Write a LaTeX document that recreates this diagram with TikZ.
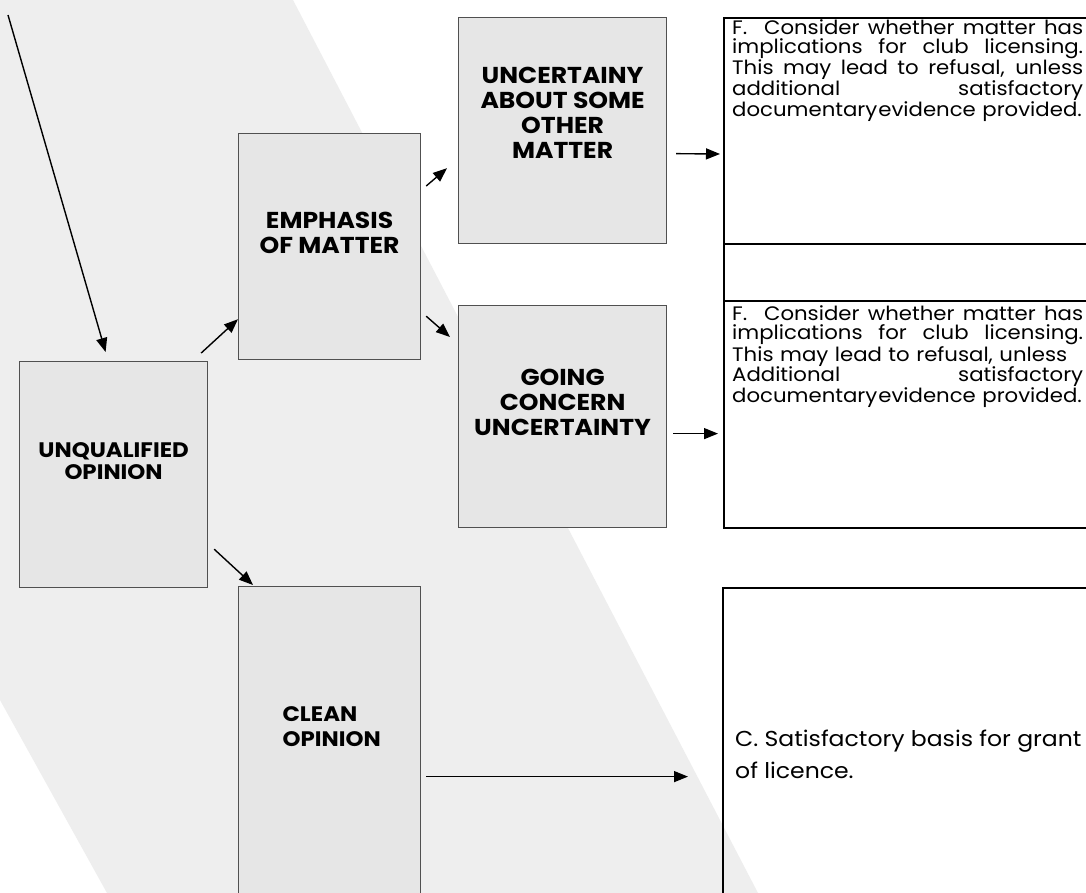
\documentclass[tikz,border=0pt]{standalone}
\usepackage{fontspec}
\setmainfont{Poppins}[FakeStretch=1.09]
\usetikzlibrary{arrows.meta,positioning}
\definecolor{bandgrey}{HTML}{EEEEEE}
\definecolor{boxgrey}{HTML}{E6E6E6}
\definecolor{boxline}{HTML}{505050}
% one stretched line of a justified cell
\newcommand\justline[1]{\makebox[351bp][s]{\spaceskip=0.28em plus 1fil\relax #1}}

\begin{document}
\begin{tikzpicture}[%
    x=1bp, y=-1bp,                        % pixel-like units, y going down
    >={Triangle[length=14bp,width=11bp]}, % filled arrow heads
    every node/.style={font=\fontsize{19.5bp}{19.8bp}\selectfont},
    ]
% -------------------------------------------------
% Box and line styles
\tikzset{
  base/.style={draw, inner sep=0pt, anchor=north west},
  greybox/.style={base, fill=boxgrey, draw=boxline, line width=1.2bp},
  whitebox/.style={base, draw=black, line width=2bp},
  lbl/.style={align=center, font=\fontsize{23bp}{25bp}\selectfont\bfseries},
  smalllbl/.style={lbl, font=\fontsize{21bp}{22bp}\selectfont\bfseries},
  body/.style={anchor=north west, inner sep=0pt, text width=351bp, align=left},
  norm/.style={->, draw, line width=1.4bp},
}
% -------------------------------------------------
% Page and background band
\useasboundingbox (0,0) rectangle (1086,893);
\fill[white] (0,0) rectangle (1086,893);
\fill[bandgrey] (0,0) -- (293,0) -- (758,893) -- (107,893) -- (0,700) -- cycle;

% -------------------------------------------------
% Opinion boxes
\node [greybox, minimum width=188bp, minimum height=226bp] (unq) at (19,361) {};
\node [greybox, minimum width=182bp, minimum height=226bp] (emph) at (238,133) {};
\node [greybox, minimum width=208bp, minimum height=226bp] (unc) at (458,17) {};
\node [greybox, minimum width=208bp, minimum height=222bp] (goc) at (458,305) {};
\node [greybox, minimum width=182bp, minimum height=320bp] (cln) at (238,586) {};

\node [smalllbl] (unqlbl) at ([yshift=14bp]unq.center) {UNQUALIFIED\\OPINION};
\node [lbl] (emphlbl) at ([yshift=14bp]emph.center) {EMPHASIS\\OF MATTER};
\node [lbl] (unclbl) at ([yshift=18bp]unc.center) {UNCERTAINY\\ABOUT SOME\\OTHER\\MATTER};
\node [lbl] (goclbl) at ([yshift=14bp]goc.center) {GOING\\CONCERN\\UNCERTAINTY};
\node [smalllbl, font=\fontsize{21bp}{25bp}\selectfont\bfseries, align=left, anchor=west]
  (clnlbl) at ([xshift=41bp,yshift=20bp]cln.west) {CLEAN\\OPINION};

% -------------------------------------------------
% Outcome boxes (cut off by the right edge)
\node [whitebox, minimum width=372bp, minimum height=226bp] (f1) at (723,17) {};
\node [whitebox, minimum width=372bp, minimum height=57bp] (f1b) at (723,243) {};
\node [whitebox, minimum width=372bp, minimum height=227bp] (f2) at (723,300) {};
\node [whitebox, minimum width=372bp, minimum height=320bp] (cbox) at (722,587) {};

\node [body] (f1txt) at ([xshift=9bp,yshift=-2bp]f1.north west) {%
  \justline{F.\ \ Consider whether matter has}\\
  \justline{implications for club licensing.}\\
  \justline{This may lead to refusal, unless}\\
  \justline{additional satisfactory}\\
  documentary\kern1bp evidence provided.};
\node [body] (f2txt) at ([xshift=9bp,yshift=-5bp]f2.north west) {%
  \justline{F.\ \ Consider whether matter has}\\
  \justline{implications for club licensing.}\\
  This may lead to refusal, unless\\
  \justline{Additional satisfactory}\\
  documentary\kern1bp evidence provided.};
\node [anchor=west, inner sep=0pt, align=left,
  font=\fontsize{21.6bp}{32bp}\selectfont] (ctxt) at ([xshift=13bp,yshift=-6bp]cbox.west)
  {C. Satisfactory basis for grant\\of licence.};

% -------------------------------------------------
% Connectors
\coordinate (src) at (8,15);
\draw [norm] (src) -- ([xshift=-8bp,yshift=9bp]unq.north);
\draw [norm] ([xshift=-7bp,yshift=8bp]unq.north east) -- ([yshift=41bp]emph.south west);
\draw [norm] ([xshift=5bp,yshift=-53bp]emph.north east) -- ([xshift=-11bp,yshift=76bp]unc.south west);
\draw [norm] ([xshift=5bp,yshift=44bp]emph.south east) -- ([xshift=-8bp,yshift=-32bp]goc.north west);
\draw [norm] ([xshift=6bp,yshift=39bp]unq.south east) -- ([xshift=15bp,yshift=1bp]cln.north west);
\draw [norm, shorten <=9bp, shorten >=3bp] ([yshift=-23bp]unc.east) -- ([yshift=-23bp]f1.west);
\draw [norm, shorten <=6bp, shorten >=5bp] ([yshift=-17bp]goc.east) -- ([yshift=-17bp]goc.east -| f2.west);
\draw [norm, shorten <=5bp, shorten >=34bp] ([yshift=-30bp]cln.east) -- ([yshift=-30bp]cln.east -| cbox.west);
% -------------------------------------------------
\end{tikzpicture}
\end{document}
